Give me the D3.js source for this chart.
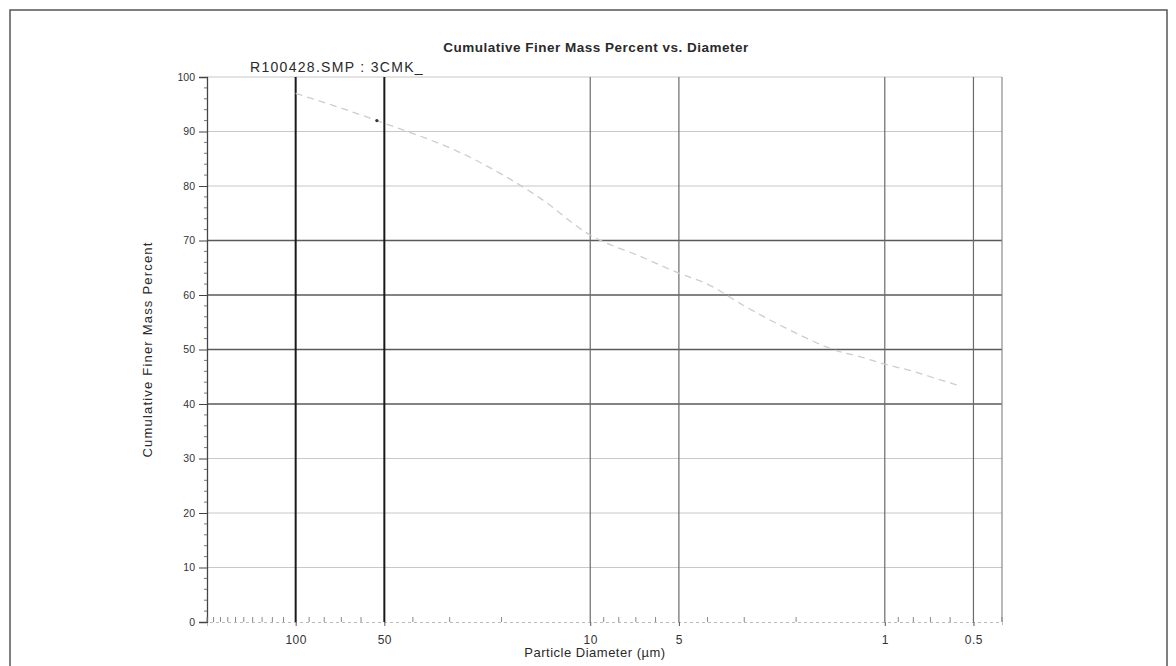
<!DOCTYPE html>
<html>
<head>
<meta charset="utf-8">
<script src="https://cdn.jsdelivr.net/npm/d3@7"></script>
<style>
  body { margin: 0; background: #fff; }
  text { font-family: "Liberation Sans", Arial, sans-serif; fill: #2a2a2a; }
</style>
</head>
<body>
<div id="chart"></div>
<script>
// sample curve
const diameters = [100, 53, 25, 15, 10, 6.7, 5, 4, 3, 2, 1.5, 1.2, 1, 0.8, 0.7, 0.57]
const finerPct = [97, 92, 85, 78, 71, 67, 64, 62, 58, 53, 50, 48.6, 47.3, 46, 45, 43.5]

const xLabelTicks = [100, 50, 10, 5, 1, 0.5]
const xMinorTicks = [200, 190, 180, 170, 160, 150, 140, 130, 120, 110, 90, 80, 70, 60, 40, 30, 20,
    9, 8, 7, 6, 4, 3, 2, 0.9, 0.8, 0.7, 0.6, 0.4]
const yTicks = [0, 10, 20, 30, 40, 50, 60, 70, 80, 90, 100]
const yMinorTicks = d3.range(0, 101, 2)

const titleText = "Cumulative Finer Mass Percent vs. Diameter"
const sampleText = "R100428.SMP : 3CMK_"
const xTitle = "Particle Diameter (µm)"
const yTitle = "Cumulative Finer Mass Percent"

const width = 1176, height = 666
const plotLeft = 207, plotRight = 1002, plotTop = 77, plotBottom = 622

let svg = d3.select("#chart").append("svg")
    .attr("width", width)
    .attr("height", height)

// scanned page frame
svg.append("path")
    .attr("d", `M10,${height + 5} L10,10 L1167,10 L1167,${height + 5}`)
    .attr("fill", "none")
    .attr("stroke", "#555")
    .attr("stroke-width", 1.5)

let x = d3.scaleLog().domain([200, 0.4]).range([plotLeft, plotRight])
let y = d3.scaleLinear().domain([0, 100]).range([plotBottom, plotTop])

// horizontal grid, the scan keeps some lines darker than others
const strongRows = [40, 50, 60, 70]
svg.append("g").selectAll("line")
    .data(yTicks.filter(d => d > 0))
    .enter().append("line")
    .attr("x1", plotLeft).attr("x2", plotRight)
    .attr("y1", d => y(d)).attr("y2", d => y(d))
    .attr("stroke", d => strongRows.includes(d) ? "#5a5a5a" : "#c8c8c8")
    .attr("stroke-width", d => strongRows.includes(d) ? 1.3 : 1.2)

// vertical grid at labelled diameters
svg.append("g").selectAll("line")
    .data(xLabelTicks)
    .enter().append("line")
    .attr("x1", d => x(d)).attr("x2", d => x(d))
    .attr("y1", plotTop).attr("y2", plotBottom)
    .attr("stroke", d => d >= 50 ? "#1a1a1a" : "#6a6a6a")
    .attr("stroke-width", d => d >= 50 ? 2 : 1.2)

// right edge of plot
svg.append("line")
    .attr("x1", plotRight).attr("x2", plotRight)
    .attr("y1", plotTop).attr("y2", plotBottom)
    .attr("stroke", "#8a8a8a")
    .attr("stroke-width", 1.2)

// curve
let line = d3.line()
    .x((d, i) => x(diameters[i]))
    .y(d => y(d))
    .curve(d3.curveMonotoneX)

svg.append("path")
    .datum(finerPct)
    .attr("d", line)
    .attr("fill", "none")
    .attr("stroke", "#cdcdcd")
    .attr("stroke-width", 1.3)
    .attr("stroke-dasharray", "7,5")

// single point mark
svg.append("circle")
    .attr("cx", x(diameters[1])).attr("cy", y(finerPct[1]))
    .attr("r", 1.6)
    .attr("fill", "#333")

// y axis
let yAxis = svg.append("g")
    .attr("transform", `translate(${plotLeft},0)`)
    .call(d3.axisLeft(y).tickValues(yTicks).tickSize(8).tickPadding(4).tickFormat(d3.format("d")))
yAxis.select(".domain").attr("stroke", "#444").attr("stroke-width", 1.3)
yAxis.selectAll(".tick line").attr("stroke", "#444")
yAxis.selectAll("text").attr("font-size", 10.5).style("fill", "#333")

svg.append("g")
    .attr("transform", `translate(${plotLeft},0)`)
    .selectAll("line")
    .data(yMinorTicks.filter(d => d % 10 != 0))
    .enter().append("line")
    .attr("x1", -3).attr("x2", 0)
    .attr("y1", d => y(d)).attr("y2", d => y(d))
    .attr("stroke", "#777")

// x axis
let xAxis = svg.append("g")
    .attr("transform", `translate(0,${plotBottom})`)
    .call(d3.axisBottom(x).tickValues(xLabelTicks).tickSize(4).tickPadding(9).tickFormat(d => d))
xAxis.select(".domain").attr("stroke", "#bbb").attr("stroke-dasharray", "3,3")
xAxis.selectAll(".tick line").attr("stroke", "#555")
xAxis.selectAll("text").attr("font-size", 12).attr("letter-spacing", 0.5).style("fill", "#333")

svg.append("g").selectAll("line")
    .data(xMinorTicks)
    .enter().append("line")
    .attr("x1", d => x(d)).attr("x2", d => x(d))
    .attr("y1", plotBottom - 5).attr("y2", plotBottom)
    .attr("stroke", "#888")

// titles
svg.append("text")
    .attr("x", 596).attr("y", 52)
    .attr("text-anchor", "middle")
    .attr("font-size", 13.5)
    .attr("font-weight", "bold")
    .attr("letter-spacing", 0.5)
    .attr("fill", "#111")
    .text(titleText)

svg.append("text")
    .attr("x", 250).attr("y", 72)
    .attr("font-size", 14)
    .attr("letter-spacing", 1.3)
    .attr("fill", "#333")
    .text(sampleText)

svg.append("text")
    .attr("x", 595).attr("y", 657)
    .attr("text-anchor", "middle")
    .attr("font-size", 13)
    .attr("letter-spacing", 0.5)
    .text(xTitle)

svg.append("text")
    .attr("transform", `translate(152,${(plotTop + plotBottom) / 2}) rotate(-90)`)
    .attr("text-anchor", "middle")
    .attr("font-size", 13)
    .attr("letter-spacing", 1.2)
    .text(yTitle)
</script>
</body>
</html>
